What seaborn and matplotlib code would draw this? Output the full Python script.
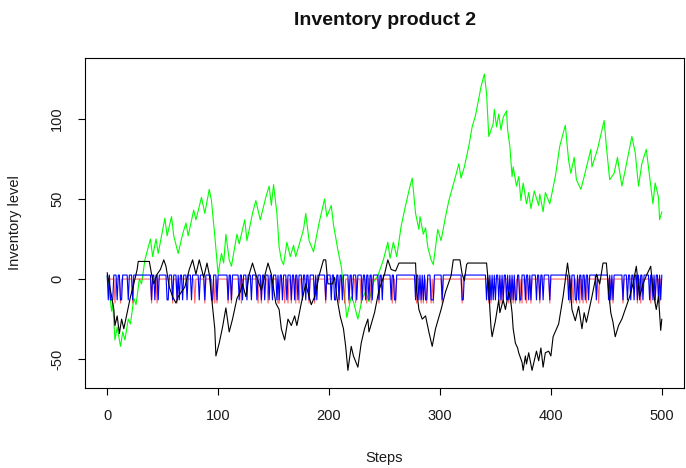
import numpy as np
import pandas as pd
import matplotlib
matplotlib.use("Agg")
import matplotlib.pyplot as plt
import seaborn as sns

# green series (vertices)
green_steps = [0, 2, 4, 5, 7, 9, 12, 14, 16, 19, 21, 24, 26, 29, 31, 34, 39, 41, 44, 46,
               52, 54, 58, 60, 64, 68, 71, 73, 78, 80, 85, 88, 92, 94, 97, 100, 103, 105, 107, 110,
               112, 117, 119, 124, 126, 131, 134, 138, 143, 146, 148, 150, 153, 155, 157, 159, 162, 165, 168, 170,
               177, 179, 182, 186, 191, 196, 198, 202, 204, 208, 211, 213, 216, 220, 222, 226, 230, 233, 236, 240,
               244, 249, 253, 255, 258, 261, 265, 269, 273, 275, 278, 281, 282, 285, 287, 289, 292, 294, 298, 301,
               305, 308, 314, 317, 319, 322, 326, 329, 332, 337, 340, 342, 344, 348, 349, 351, 353, 355, 357, 360,
               361, 363, 365, 366, 369, 371, 373, 375, 378, 380, 382, 385, 389, 390, 393, 395, 399, 404, 408, 413,
               416, 418, 421, 423, 427, 430, 436, 437, 442, 448, 450, 453, 457, 460, 464, 467, 473, 476, 479, 482,
               486, 489, 492, 494, 497, 498, 500]
green_vals = [2, -8, -20, -15, -38, -30, -42, -33, -38, -25, -28, -12, -16, 0, -3, 12, 25, 14, 25, 16,
              38, 27, 39, 27, 16, 28, 35, 27, 43, 37, 51, 41, 56, 49, 27, 3, 16, 10, 28, 12,
              8, 28, 22, 37, 24, 41, 49, 37, 51, 58, 46, 59, 41, 20, 12, 9, 23, 14, 21, 14,
              31, 41, 24, 17, 35, 50, 39, 46, 34, 18, 8, -5, -24, -11, -14, -25, -12, -8, -14, -2,
              2, 12, 23, 13, 23, 14, 33, 46, 58, 63, 41, 31, 39, 28, 32, 20, 12, 9, 31, 24,
              39, 49, 64, 72, 63, 70, 83, 95, 102, 120, 128, 116, 89, 97, 106, 95, 103, 93, 101, 105,
              93, 83, 64, 70, 58, 64, 49, 60, 47, 54, 44, 55, 46, 53, 42, 54, 47, 64, 83, 96,
              74, 66, 76, 62, 56, 64, 81, 70, 81, 99, 83, 62, 66, 76, 58, 68, 89, 79, 58, 72,
              81, 64, 47, 60, 51, 37, 42]

# black series
black_steps = [0, 4, 6, 7, 9, 11, 13, 15, 18, 21, 24, 27, 28, 38, 40, 42, 45, 48, 51, 53,
               56, 59, 62, 64, 67, 70, 74, 77, 80, 83, 87, 90, 92, 95, 97, 98, 101, 104, 107, 110,
               113, 117, 120, 122, 125, 128, 131, 134, 139, 142, 145, 148, 152, 155, 157, 160, 163, 166, 169, 171,
               175, 179, 182, 184, 187, 191, 195, 197, 199, 203, 205, 207, 210, 213, 215, 217, 220, 222, 226, 229,
               232, 235, 236, 241, 245, 250, 253, 256, 260, 263, 278, 279, 281, 284, 287, 290, 293, 296, 301, 305,
               310, 312, 318, 320, 322, 324, 325, 342, 344, 345, 346, 347, 350, 353, 354, 357, 359, 362, 364, 365,
               366, 368, 370, 371, 374, 375, 377, 378, 380, 383, 385, 387, 389, 391, 393, 395, 398, 400, 402, 407,
               411, 415, 417, 419, 422, 425, 428, 430, 432, 437, 441, 444, 447, 450, 452, 454, 456, 458, 461, 464,
               467, 471, 474, 477, 480, 483, 486, 490, 492, 495, 497, 499, 500]
black_vals = [4, -11, -19, -29, -23, -34, -25, -31, -21, -11, -3, 6, 11, 11, 3, -3, 3, 6, 12, 8,
              -5, -11, -15, -11, -8, -5, 6, 12, 3, 12, 1, 10, 3, -17, -31, -48, -40, -30, -18, -33,
              -25, -12, -8, -3, -11, 3, 10, 3, -7, 2, 10, 3, -15, -19, -31, -38, -25, -29, -23, -29,
              -15, -3, -11, -16, -11, 2, 12, 12, -3, -3, 1, -11, -23, -31, -42, -57, -42, -48, -55, -40,
              -31, -25, -33, -21, -7, 3, 12, 6, 5, 10, 10, -7, -19, -25, -23, -33, -42, -31, -19, -8,
              2, 12, 12, 3, -1, 9, 10, 10, -5, -19, -30, -36, -26, -13, -21, -13, -19, -8, -15, -21,
              -31, -40, -43, -46, -52, -57, -48, -53, -46, -57, -51, -45, -51, -43, -55, -46, -45, -48, -36, -28,
              -11, 10, -1, -19, -26, -17, -31, -21, -27, -11, 3, -3, 10, 10, -7, -21, -27, -36, -29, -25,
              -19, -11, -3, 8, -11, -3, 2, 8, -7, -19, -11, -32, -25]

# order events: steps where the blue / red lines drop
blue_events = [1, 3, 4, 5, 9, 12, 13, 19, 23, 40, 43, 46, 54, 55, 59, 63, 65, 68, 72, 76,
               83, 88, 94, 95, 99, 109, 112, 119, 122, 126, 130, 135, 139, 142, 146, 149, 153, 155, 158, 162,
               166, 169, 172, 176, 179, 182, 187, 189, 197, 202, 205, 206, 209, 212, 218, 221, 225, 230, 233, 236,
               239, 245, 248, 256, 259, 260, 278, 281, 283, 285, 287, 288, 292, 293, 294, 302, 320, 321, 342, 344,
               346, 348, 350, 353, 355, 357, 360, 362, 364, 366, 368, 369, 372, 373, 377, 380, 382, 387, 390, 393,
               399, 416, 418, 422, 423, 425, 428, 431, 434, 441, 452, 454, 456, 465, 469, 472, 475, 478, 480, 483,
               489, 492, 494, 497, 499]
red_events = [7, 12, 23, 40, 45, 59, 63, 79, 88, 95, 97, 99, 109, 112, 121, 136, 139, 145, 154, 155,
              160, 163, 166, 170, 173, 182, 187, 197, 209, 214, 218, 224, 229, 234, 238, 245, 257, 260, 279, 283,
              285, 288, 292, 294, 302, 320, 344, 346, 355, 357, 362, 364, 366, 368, 372, 374, 378, 382, 390, 399,
              417, 420, 423, 426, 429, 432, 443, 453, 456, 465, 478, 481, 490, 494, 498]
blue_level, blue_low = 2.5, -13
red_level, red_low = 0, -15

steps = np.arange(0, 501)
blue = np.full(len(steps), blue_level, dtype=float)
blue[blue_events] = blue_low
red = np.full(len(steps), red_level, dtype=float)
red[red_events] = red_low

sns.set_theme(style="white")
plt.rcParams['font.family'] = ['Liberation Sans', 'DejaVu Sans']

fig = plt.figure(figsize=(6.86, 4.68), dpi=100)
ax = fig.add_axes([85 / 686, 1 - 388 / 468, 599 / 686, 330 / 468])

sns.lineplot(x=green_steps, y=green_vals, color="#00ff00", linewidth=0.8, ax=ax, estimator=None, sort=False)
sns.lineplot(x=steps, y=red, color="#ff0000", linewidth=0.8, alpha=0.6, ax=ax, estimator=None)
sns.lineplot(x=steps, y=blue, color="#0000ff", linewidth=0.8, ax=ax, estimator=None)
sns.lineplot(x=black_steps, y=black_vals, color="black", linewidth=0.8, ax=ax, estimator=None, sort=False)

ax.set_xlim(-20, 520)
ax.set_ylim(-68, 138)
ax.set_xticks([0, 100, 200, 300, 400, 500])
ax.set_yticks([-50, 0, 50, 100])
ax.set_yticklabels(["-50", "0", "50", "100"], rotation=90, va="center")
ax.tick_params(axis="both", direction="out", length=5, width=0.8, color="black",
               labelsize=10.5, labelcolor="#1a1a1a", pad=10, left=True, bottom=True)
for s in ax.spines.values():
    s.set_color("black")
    s.set_linewidth(0.8)

ax.set_xlabel("Steps", fontsize=10.5, labelpad=20, color="#1a1a1a")
ax.set_ylabel("Inventory level", fontsize=10.5, labelpad=20, color="#1a1a1a")
ax.set_title("Inventory product 2", fontsize=14, fontweight="bold", pad=24, color="#111111")

fig.savefig("out.png", dpi=100)
